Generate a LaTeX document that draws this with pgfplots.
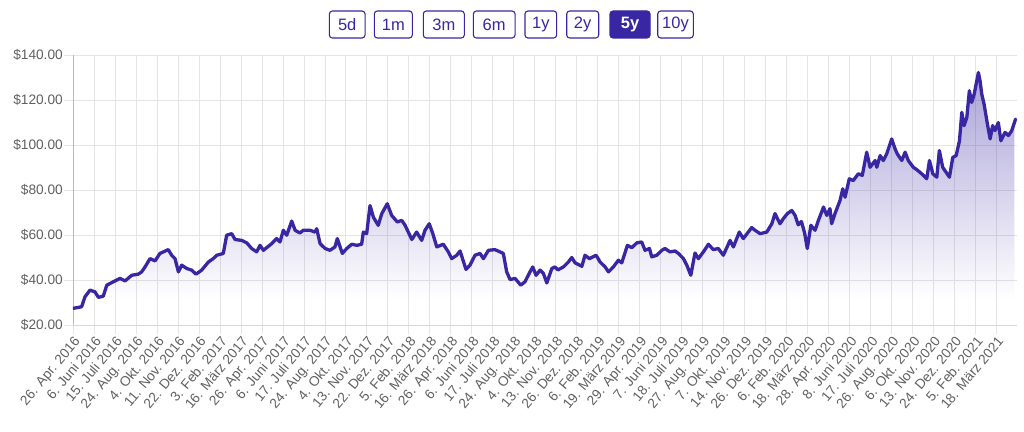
\documentclass[border=0pt]{standalone}
\usepackage{pgfplots}
\pgfplotsset{compat=1.18}
\usepackage{pgfplotstable}
\usetikzlibrary{fadings}
\usepackage{fontspec}
\setmainfont{Liberation Sans}
\definecolor{lc}{RGB}{56,38,163}
\definecolor{gridc}{RGB}{229,229,229}
\definecolor{tickc}{RGB}{96,96,96}
\pgfdeclareverticalshading{fadeshade}{100bp}{color(0bp)=(black); color(30bp)=(black); color(100bp)=(white!66!black)}
\pgfdeclarefading{areafade}{\pgfuseshading{fadeshade}}

\pgfplotstableread{
x y
0.01 27.4
0.41 28.1
0.57 32.5
0.81 35.5
1.05 34.7
1.21 32.3
1.44 32.8
1.61 37.7
1.92 39.2
2.24 40.7
2.48 39.6
2.80 42.1
3.11 42.6
3.27 43.6
3.43 45.8
3.67 49.5
3.91 48.5
4.14 51.8
4.54 53.5
4.70 51.0
4.86 49.5
5.02 43.6
5.18 46.6
5.42 45.1
5.65 44.4
5.86 42.6
6.13 44.4
6.45 48.0
6.68 49.5
6.85 51.0
7.16 51.8
7.32 59.9
7.56 60.6
7.72 58.0
8.04 57.6
8.28 56.5
8.51 54.0
8.75 52.5
8.91 55.4
9.07 53.2
9.47 56.2
9.70 58.4
9.86 56.9
10.02 62.1
10.18 59.9
10.42 66.2
10.58 62.1
10.81 60.9
10.97 62.1
11.29 62.1
11.53 61.3
11.61 62.8
11.77 56.2
12.01 54.0
12.24 53.2
12.48 54.7
12.59 58.4
12.83 51.8
13.04 54.0
13.28 55.9
13.52 55.4
13.75 55.9
13.83 61.3
13.99 60.6
14.15 73.1
14.31 67.9
14.54 64.3
14.71 69.5
14.97 73.9
15.18 68.7
15.45 65.8
15.66 66.5
15.82 64.3
16.14 58.0
16.37 61.3
16.61 57.6
16.77 62.1
16.97 65.0
17.14 60.6
17.33 54.7
17.64 55.9
17.88 52.5
18.04 49.5
18.28 51.0
18.44 52.9
18.72 44.7
18.91 46.6
19.15 51.0
19.39 51.8
19.55 49.5
19.79 53.2
20.10 53.5
20.34 52.5
20.50 51.8
20.66 43.6
20.82 40.2
21.06 40.7
21.33 37.7
21.53 39.2
21.77 43.6
21.90 45.8
22.06 42.1
22.25 44.4
22.41 42.9
22.57 38.7
22.81 45.1
22.96 45.8
23.10 44.5
23.36 45.8
23.60 48.0
23.76 50.0
23.92 47.6
24.24 46.1
24.39 51.0
24.60 49.5
24.92 51.0
25.11 48.0
25.35 45.8
25.51 43.6
25.74 45.8
25.98 48.8
26.14 47.6
26.41 55.4
26.62 54.4
26.86 56.5
27.09 56.9
27.25 53.2
27.46 54.0
27.57 50.3
27.81 51.0
28.05 53.2
28.20 54.0
28.44 52.5
28.68 52.9
28.84 51.8
29.08 49.5
29.24 46.6
29.43 42.1
29.63 52.0
29.79 49.5
30.03 52.5
30.27 55.9
30.50 53.5
30.74 54.0
30.98 51.0
31.30 57.6
31.46 54.7
31.74 61.3
31.93 58.4
32.33 63.3
32.49 62.1
32.73 60.6
33.05 61.3
33.29 65.0
33.44 69.5
33.68 65.0
33.84 67.3
34.03 69.5
34.24 70.9
34.40 68.7
34.55 64.5
34.70 66.0
34.85 61.0
34.98 54.0
35.15 64.3
35.35 62.1
35.51 66.5
35.75 72.4
35.91 68.7
36.06 71.7
36.14 65.0
36.30 69.5
36.54 75.4
36.67 80.5
36.78 76.8
36.98 85.0
37.17 84.2
37.41 87.2
37.60 86.5
37.81 96.8
37.97 90.1
38.21 93.1
38.29 90.1
38.45 95.3
38.60 93.1
38.76 96.0
39.00 102.7
39.16 98.3
39.27 96.0
39.48 93.1
39.64 96.8
39.79 93.1
40.03 90.1
40.20 89.0
40.43 87.2
40.67 85.0
40.80 93.1
40.96 87.2
41.15 85.7
41.27 97.5
41.43 90.1
41.59 87.9
41.75 85.7
41.91 94.5
42.07 95.3
42.23 101.9
42.34 114.5
42.45 108.6
42.58 112.3
42.70 124.1
42.81 118.9
42.93 122.6
43.13 132.2
43.21 128.5
43.29 122.6
43.40 118.2
43.56 109.3
43.69 102.7
43.81 108.6
43.92 106.4
44.08 110.0
44.20 101.9
44.40 105.6
44.56 104.2
44.72 106.4
44.90 111.5
}\pricedata

\tikzset{btn/.style={draw=lc, line width=1.1pt, rounded corners=3pt, text=lc,
  font=\fontsize{16.5}{18}\selectfont, minimum height=27pt, inner sep=0pt}}

\begin{document}
\begin{tikzpicture}
\path[use as bounding box] (-73pt,-106pt) rectangle (951pt,325pt);
\node[btn, minimum width=35.7pt] at (274.2pt,300.5pt) {5d};
\node[btn, minimum width=38pt] at (320.3pt,300.5pt) {1m};
\node[btn, minimum width=41pt] at (370.8pt,300.5pt) {3m};
\node[btn, minimum width=41.7pt] at (421.2pt,300.5pt) {6m};
\node[btn, minimum width=31.7pt] at (467.8pt,300.5pt) {1y};
\node[btn, minimum width=32pt] at (509.7pt,300.5pt) {2y};
\node[btn, minimum width=40pt, fill=lc, text=white, font=\fontsize{16.5}{18}\selectfont\bfseries] at (557pt,300.5pt) {5y};
\node[btn, minimum width=35.6pt] at (602.5pt,300.5pt) {10y};
\begin{axis}[
  anchor=south west, at={(0pt,0pt)},
  scale only axis, width=944pt, height=270pt,
  xmin=0, xmax=44.97, ymin=20, ymax=140,
  axis x line*=bottom, axis y line*=left,
  x axis line style={draw=gray!30, -},
  y axis line style={draw=gray!55, -},
  xtick={0,...,44},
  xticklabels={26. Apr. 2016, 6. Juni 2016, 15. Juli 2016, 24. Aug. 2016, 4. Okt. 2016, 11. Nov. 2016, 22. Dez. 2016,
    3. Feb. 2017, 16. März 2017, 26. Apr. 2017, 6. Juni 2017, 17. Juli 2017, 24. Aug. 2017, 4. Okt. 2017, 13. Nov. 2017, 22. Dez. 2017,
    5. Feb. 2018, 16. März 2018, 26. Apr. 2018, 6. Juni 2018, 17. Juli 2018, 24. Aug. 2018, 4. Okt. 2018, 13. Nov. 2018, 26. Dez. 2018,
    6. Feb. 2019, 19. März 2019, 29. Apr. 2019, 7. Juni 2019, 18. Juli 2019, 27. Aug. 2019, 7. Okt. 2019, 14. Nov. 2019, 26. Dez. 2019,
    6. Feb. 2020, 18. März 2020, 28. Apr. 2020, 8. Juni 2020, 17. Juli 2020, 26. Aug. 2020, 6. Okt. 2020, 13. Nov. 2020, 24. Dez. 2020,
    5. Feb. 2021, 18. März 2021},
  ytick={20,40,60,80,100,120,140},
  yticklabels={\$20.00,\$40.00,\$60.00,\$80.00,\$100.00,\$120.00,\$140.00},
  xtick pos=bottom, ytick pos=left,
  tick align=outside, major tick length=9pt,
  tick style={draw=gridc, line width=0.8pt},
  grid=major, major grid style={draw=gridc, line width=0.8pt},
  xticklabel style={font=\fontsize{13.7}{16}\selectfont, text=tickc, rotate=50, anchor=north east, inner sep=1pt},
  yticklabel style={font=\fontsize{13.7}{16}\selectfont, text=tickc, anchor=east, inner sep=1pt},
]
\addplot[fill=lc, draw=none, path fading=areafade] table {\pricedata} -- (axis cs:44.90,20) -- (axis cs:0.01,20) -- cycle;
\addplot[lc, line width=3.3pt, line join=round, line cap=round] table {\pricedata};
\end{axis}
\end{tikzpicture}
\end{document}
